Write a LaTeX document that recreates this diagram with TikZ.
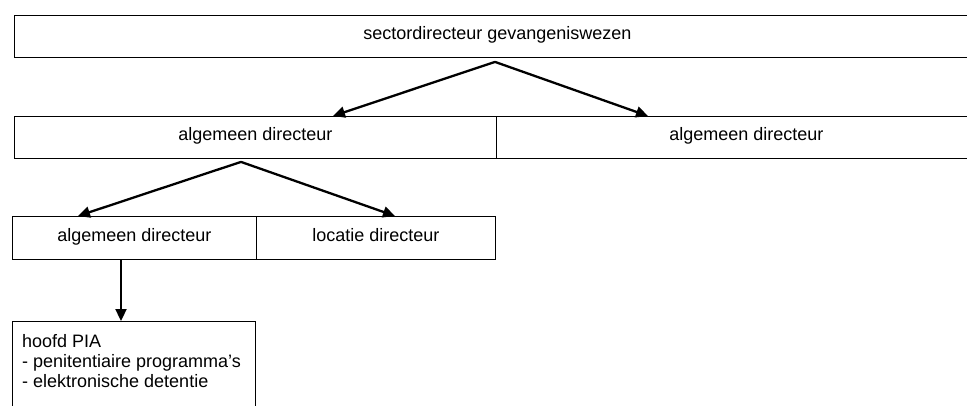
\documentclass[tikz,border=0pt]{standalone}
\usepackage{fontspec}
\setmainfont{Liberation Sans}
\usetikzlibrary{arrows.meta,calc}
\begin{document}
\begin{tikzpicture}[x=1pt,y=-1pt,
  font=\fontsize{18}{20}\selectfont,
  box/.style={draw, line width=0.9pt, inner sep=0pt, anchor=north west, text height=13pt, text depth=6pt},
  conn/.style={line width=2.3pt, -{Triangle[length=12pt,width=11pt]}}]
\useasboundingbox (0,0) rectangle (967,405);
\clip (0,0) rectangle (967,405);
% level 1
\node[box, minimum width=966pt, minimum height=42pt] (sector) at (14,15) {sectordirecteur gevangeniswezen};
% level 2
\node[box, minimum width=482pt, minimum height=42pt] (algA) at (14,116) {algemeen directeur};
\node[box, minimum width=500pt, minimum height=42pt] (algB) at (496,116) {algemeen directeur};
% level 3
\node[box, minimum width=244pt, minimum height=43pt] (algC) at (12,216) {algemeen directeur};
\node[box, minimum width=239pt, minimum height=43pt] (loc) at (256,216) {locatie directeur};
% level 4
\node[box, minimum width=243pt, minimum height=110pt, inner sep=0pt] (pia) at (12,321) {};
\node[anchor=north west, inner sep=0pt, align=left] (piatext) at ($(pia.north west)+(10,13)$) {hoofd PIA\\- penitentiaire programma's\\- elektronische detentie};
% connectors
\coordinate (p1) at ($(sector.south west)+(481,4)$);
\coordinate (t1) at ($(algA.north west)+(319,0)$);
\coordinate (t2) at ($(algB.north west)+(152,0)$);
\draw[conn] (p1) -- (t1);
\draw[conn] (p1) -- (t2);
\coordinate (p2) at ($(algA.south west)+(227,3)$);
\coordinate (t3) at ($(algC.north west)+(66,0)$);
\coordinate (t4) at ($(loc.north west)+(139,0)$);
\draw[conn] (p2) -- (t3);
\draw[conn] (p2) -- (t4);
\coordinate (p3) at ($(algC.south west)+(109,0)$);
\coordinate (t5) at ($(pia.north west)+(109,0)$);
\draw[conn] (p3) -- (t5);
\end{tikzpicture}
\end{document}
